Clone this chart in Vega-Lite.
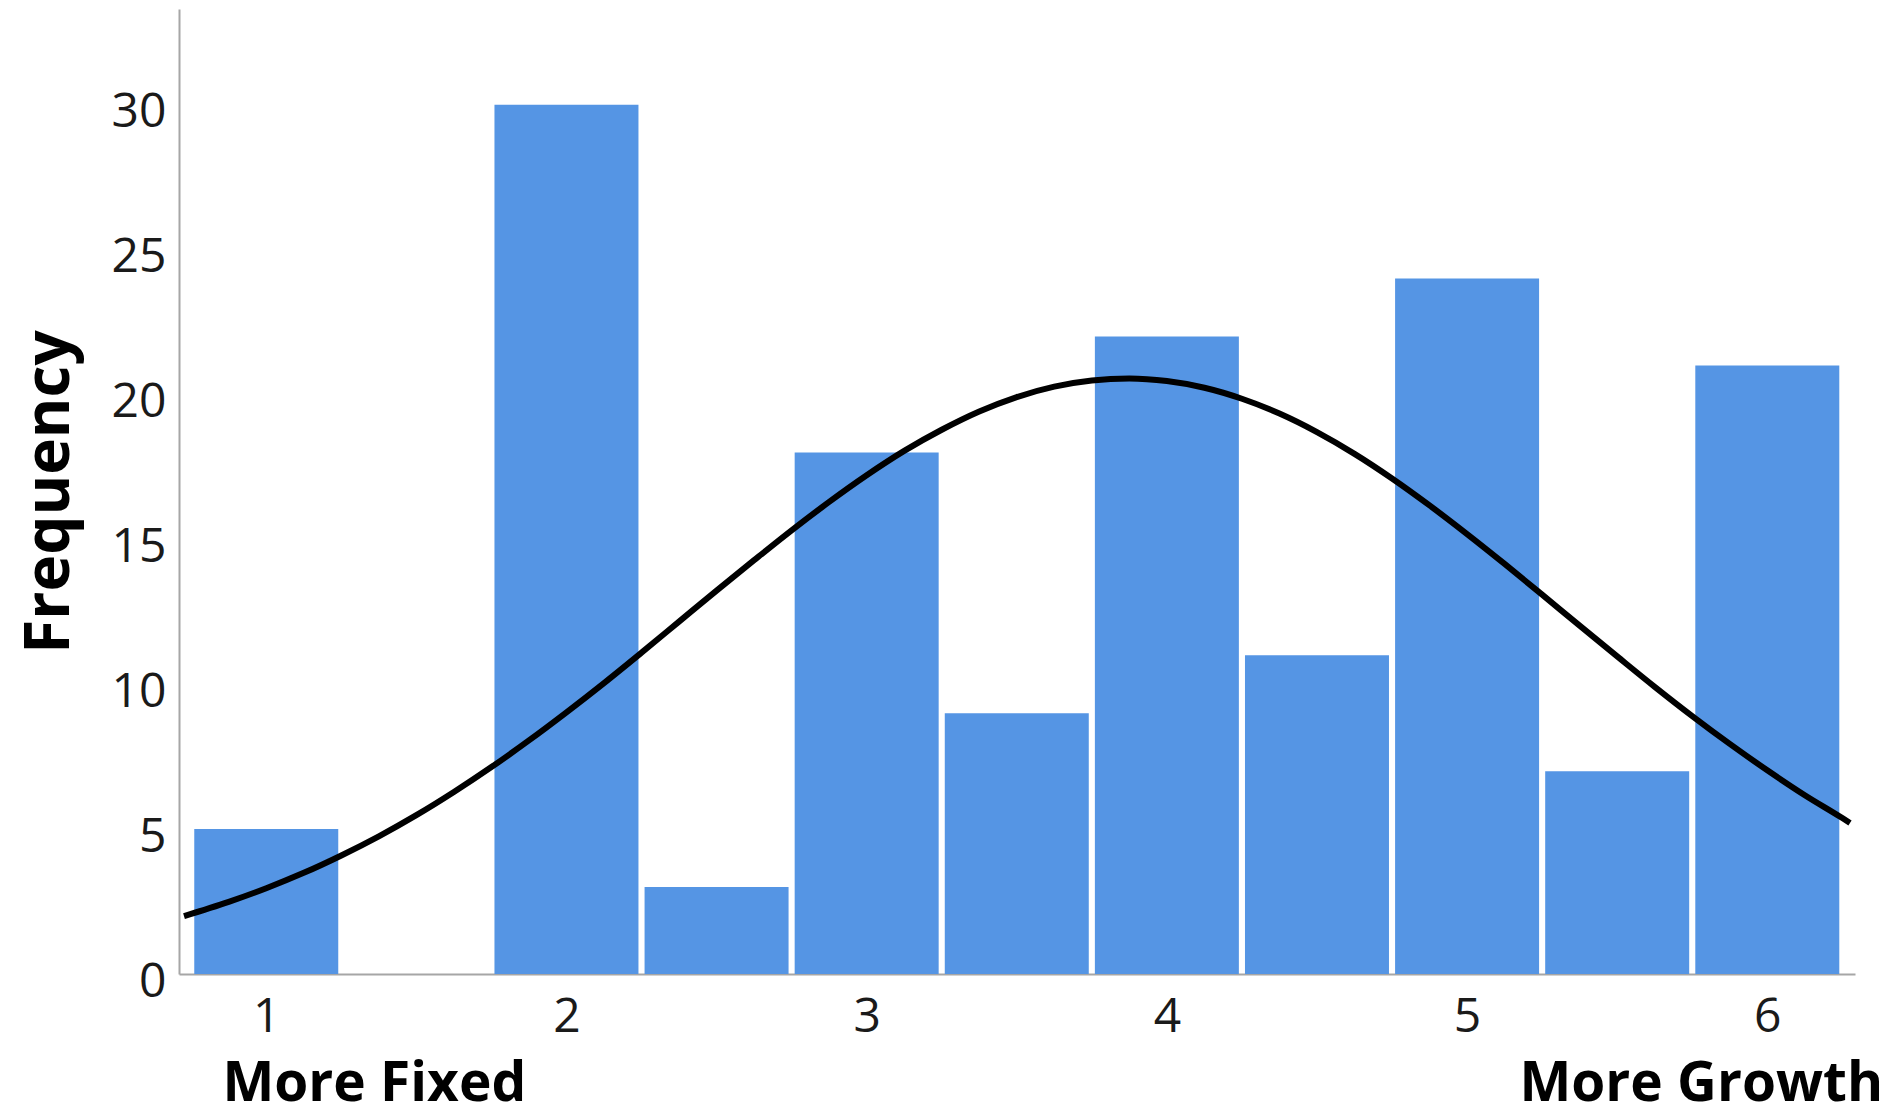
{
  "$schema": "https://vega.github.io/schema/vega-lite/v6.json",
  "width": 1676,
  "height": 965,
  "autosize": {"type": "none"},
  "padding": {"left": 179, "top": 9, "right": 40, "bottom": 143},
  "background": "white",
  "config": {
    "view": {"stroke": null},
    "font": "Open Sans"
  },
  "datasets": {
    "bars": [
      {"score": 1.0, "count": 5},
      {"score": 1.5, "count": 0},
      {"score": 2.0, "count": 30},
      {"score": 2.5, "count": 3},
      {"score": 3.0, "count": 18},
      {"score": 3.5, "count": 9},
      {"score": 4.0, "count": 22},
      {"score": 4.5, "count": 11},
      {"score": 5.0, "count": 24},
      {"score": 5.5, "count": 7},
      {"score": 6.0, "count": 21}
    ],
    "curve": [
      {"score": 0.726, "freq": 2.0},
      {"score": 0.875, "freq": 2.49},
      {"score": 1.0, "freq": 2.96},
      {"score": 1.125, "freq": 3.49},
      {"score": 1.25, "freq": 4.09},
      {"score": 1.375, "freq": 4.75},
      {"score": 1.5, "freq": 5.48},
      {"score": 1.625, "freq": 6.28},
      {"score": 1.75, "freq": 7.14},
      {"score": 1.875, "freq": 8.06},
      {"score": 2.0, "freq": 9.03},
      {"score": 2.125, "freq": 10.04},
      {"score": 2.25, "freq": 11.09},
      {"score": 2.375, "freq": 12.16},
      {"score": 2.5, "freq": 13.23},
      {"score": 2.625, "freq": 14.28},
      {"score": 2.75, "freq": 15.31},
      {"score": 2.875, "freq": 16.29},
      {"score": 3.0, "freq": 17.21},
      {"score": 3.125, "freq": 18.05},
      {"score": 3.25, "freq": 18.78},
      {"score": 3.375, "freq": 19.41},
      {"score": 3.5, "freq": 19.91},
      {"score": 3.625, "freq": 20.27},
      {"score": 3.75, "freq": 20.48},
      {"score": 3.875, "freq": 20.55},
      {"score": 4.0, "freq": 20.46},
      {"score": 4.125, "freq": 20.23},
      {"score": 4.25, "freq": 19.85},
      {"score": 4.375, "freq": 19.34},
      {"score": 4.5, "freq": 18.7},
      {"score": 4.625, "freq": 17.95},
      {"score": 4.75, "freq": 17.1},
      {"score": 4.875, "freq": 16.17},
      {"score": 5.0, "freq": 15.18},
      {"score": 5.125, "freq": 14.15},
      {"score": 5.25, "freq": 13.09},
      {"score": 5.375, "freq": 12.02},
      {"score": 5.5, "freq": 10.96},
      {"score": 5.625, "freq": 9.91},
      {"score": 5.75, "freq": 8.9},
      {"score": 5.875, "freq": 7.94},
      {"score": 6.0, "freq": 7.03},
      {"score": 6.125, "freq": 6.17},
      {"score": 6.25, "freq": 5.38},
      {"score": 6.2755, "freq": 5.21}
    ],
    "ends": [
      {"score": 1.36, "label": "More Fixed"},
      {"score": 5.78, "label": "More Growth"}
    ]
  },
  "layer": [
    {
      "data": {"name": "bars"},
      "mark": {"type": "bar", "width": 144, "color": "#5595e4", "clip": false},
      "encoding": {
        "x": {
          "field": "score",
          "type": "quantitative",
          "scale": {"domain": [0.726, 6.2755], "nice": false, "zero": false},
          "axis": {
            "values": [1, 2, 3, 4, 5, 6],
            "format": "d",
            "title": null,
            "ticks": false,
            "grid": false,
            "domainColor": "#a6a6a6",
            "domainWidth": 2,
            "labelFont": "Open Sans",
            "labelFontSize": 48,
            "labelColor": "#1a1a1a",
            "labelPadding": 19,
            "labelFlush": false
          }
        },
        "y": {
          "field": "count",
          "type": "quantitative",
          "scale": {"domain": [0, 33.3], "nice": false},
          "axis": {
            "values": [0, 5, 10, 15, 20, 25, 30],
            "title": "Frequency",
            "titleFont": "Open Sans",
            "titleFontSize": 62,
            "titleFontWeight": "bold",
            "titleColor": "#000000",
            "titlePadding": 30,
            "ticks": false,
            "grid": false,
            "domainColor": "#a6a6a6",
            "domainWidth": 2,
            "labelFont": "Open Sans",
            "labelFontSize": 48,
            "labelColor": "#1a1a1a",
            "labelPadding": 13,
            "labelOffset": 8,
            "labelFlush": false
          }
        }
      }
    },
    {
      "data": {"name": "curve"},
      "mark": {"type": "line", "color": "#000000", "strokeWidth": 6, "interpolate": "monotone", "clip": false},
      "encoding": {
        "x": {"field": "score", "type": "quantitative"},
        "y": {"field": "freq", "type": "quantitative"}
      }
    },
    {
      "data": {"name": "ends"},
      "mark": {"type": "text", "font": "Open Sans", "fontSize": 55, "fontWeight": "bold", "color": "#000000", "baseline": "bottom", "align": "center", "dy": 139, "clip": false},
      "encoding": {
        "x": {"field": "score", "type": "quantitative"},
        "y": {"datum": 0},
        "text": {"field": "label"}
      }
    }
  ]
}
